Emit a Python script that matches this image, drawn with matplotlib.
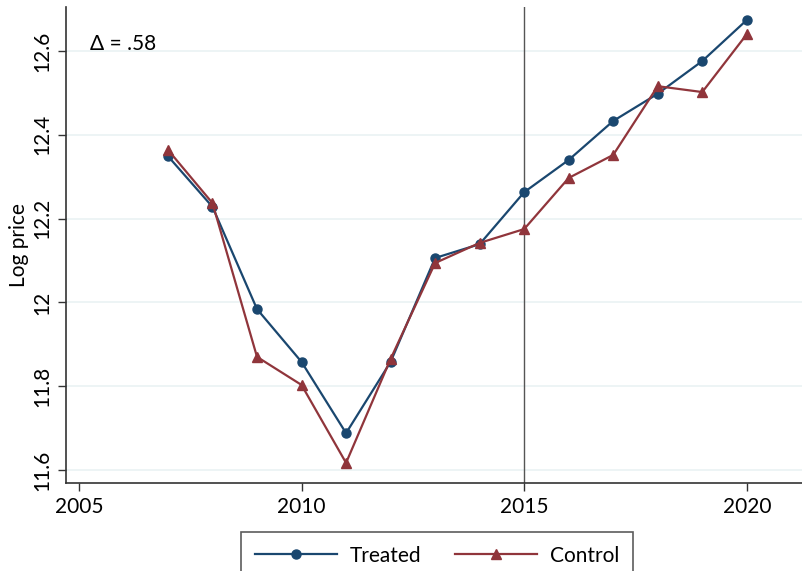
import numpy as np
import matplotlib.pyplot as plt
from matplotlib.lines import Line2D

plt.rcParams['font.family'] = ['Lato', 'DejaVu Sans']

years = [2007, 2008, 2009, 2010, 2011, 2012, 2013, 2014, 2015, 2016, 2017, 2018, 2019, 2020]
treated = [12.349, 12.228, 11.984, 11.858, 11.688, 11.858, 12.106, 12.139,
           12.263, 12.340, 12.433, 12.498, 12.576, 12.674]
control = [12.364, 12.237, 11.870, 11.803, 11.617, 11.865, 12.094, 12.142,
           12.175, 12.297, 12.352, 12.516, 12.502, 12.640]
x_ticks = [2005, 2010, 2015, 2020]
y_ticks = [11.6, 11.8, 12.0, 12.2, 12.4, 12.6]
y_labels = ['11.6', '11.8', '12', '12.2', '12.4', '12.6']
delta_text = '\u0394 = .58'
event_year = 2015

navy = '#1a476f'
maroon = '#90353b'

fig = plt.figure(figsize=(8.02, 5.71), dpi=100)
ax = fig.add_axes([66 / 802, 1 - 483 / 571, (802 - 66) / 802, (483 - 7) / 571])

for yt in y_ticks:
    ax.axhline(yt, color='#eaf2f3', lw=1.2, zorder=0)
ax.axvline(event_year, color='#555555', lw=1.0, zorder=1)

ax.plot(years, treated, color=navy, lw=1.6, marker='o', ms=6.5, zorder=3)
ax.plot(years, control, color=maroon, lw=1.6, marker='^', ms=7.5, zorder=3)

ax.set_xlim(2004.71, 2021.24)
ax.set_ylim(11.569, 12.705)
ax.set_xticks(x_ticks)
ax.set_yticks(y_ticks)
ax.set_yticklabels(y_labels, rotation=90, va='center')
ax.tick_params(labelsize=15, length=6, width=1, color='#333333', pad=4)
ax.set_ylabel('Log price', fontsize=15, labelpad=2)

for side in ['top', 'right']:
    ax.spines[side].set_visible(False)
for side in ['left', 'bottom']:
    ax.spines[side].set_color('#333333')
    ax.spines[side].set_linewidth(1.2)

ax.text(2005.25, 12.617, delta_text, fontsize=15, va='center', ha='left')

handles = [Line2D([], [], color=navy, lw=1.6, marker='o', ms=6.5),
           Line2D([], [], color=maroon, lw=1.6, marker='^', ms=7.5)]
leg = fig.legend(handles, ['Treated', 'Control'], loc='upper center',
                 bbox_to_anchor=(437 / 802, 1 - 532 / 571), ncol=2, fontsize=15,
                 handlelength=3.95, frameon=True, fancybox=False, borderpad=0.65,
                 borderaxespad=0, columnspacing=1.6, handletextpad=0.6)
leg.get_frame().set_edgecolor('#333333')
leg.get_frame().set_linewidth(1.2)

fig.savefig('out.png', dpi=100)
